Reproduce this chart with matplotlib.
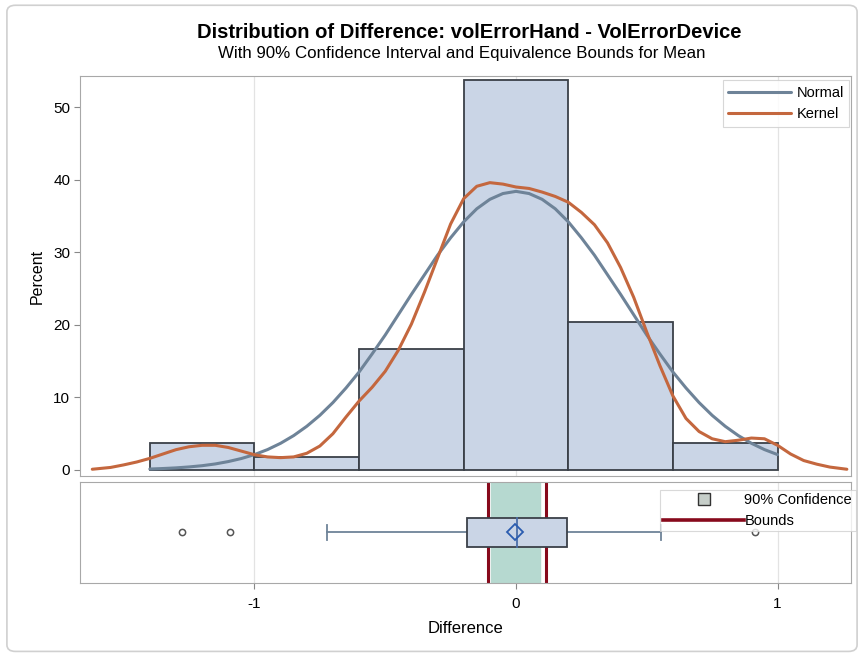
import numpy as np
import matplotlib.pyplot as plt
from matplotlib.patches import Rectangle, FancyBboxPatch
from matplotlib.lines import Line2D

plt.rcParams["font.family"] = ["Liberation Sans", "DejaVu Sans"]

# ------------ data ------------
bin_edges = [-1.4, -1.0, -0.6, -0.2, 0.2, 0.6, 1.0]
bin_percent = [3.7, 1.8, 16.7, 53.7, 20.4, 3.7]

normal_x = [-1.40, -1.35, -1.30, -1.25, -1.20, -1.15, -1.10, -1.05, -1.00, -0.95,
            -0.90, -0.85, -0.80, -0.75, -0.70, -0.65, -0.60, -0.55, -0.50, -0.45,
            -0.40, -0.35, -0.30, -0.25, -0.20, -0.15, -0.10, -0.05, 0.00, 0.05,
            0.10, 0.15, 0.20, 0.25, 0.30, 0.35, 0.40, 0.45, 0.50, 0.55,
            0.60, 0.65, 0.70, 0.75, 0.80, 0.85, 0.90, 0.95, 1.00]
normal_y = [0.13, 0.20, 0.29, 0.42, 0.59, 0.83, 1.16, 1.58, 2.12, 2.81,
            3.68, 4.74, 6.02, 7.53, 9.29, 11.3, 13.5, 16.0, 18.6, 21.4,
            24.2, 26.9, 29.6, 32.0, 34.2, 36.0, 37.3, 38.1, 38.4, 38.1,
            37.3, 36.0, 34.2, 32.0, 29.6, 26.9, 24.2, 21.4, 18.6, 16.0,
            13.5, 11.3, 9.29, 7.53, 6.02, 4.74, 3.68, 2.81, 2.12]

kernel_x = [-1.62, -1.55, -1.50, -1.45, -1.40, -1.35, -1.30, -1.25, -1.20, -1.15,
            -1.10, -1.05, -1.00, -0.95, -0.90, -0.85, -0.80, -0.75, -0.70, -0.65,
            -0.60, -0.55, -0.50, -0.45, -0.40, -0.35, -0.30, -0.25, -0.20, -0.15,
            -0.10, -0.05, 0.00, 0.05, 0.10, 0.15, 0.20, 0.25, 0.30, 0.35,
            0.40, 0.45, 0.50, 0.55, 0.60, 0.65, 0.70, 0.75, 0.80, 0.85,
            0.90, 0.95, 1.00, 1.05, 1.10, 1.15, 1.20, 1.265]
kernel_y = [0.1, 0.35, 0.7, 1.1, 1.6, 2.2, 2.8, 3.2, 3.4, 3.4,
            3.1, 2.6, 2.1, 1.8, 1.7, 1.8, 2.3, 3.3, 5.0, 7.3,
            9.5, 11.4, 13.6, 16.5, 20.1, 24.5, 29.2, 33.9, 37.4, 39.1,
            39.6, 39.4, 39.0, 38.8, 38.3, 37.7, 36.9, 35.5, 33.8, 31.3,
            27.9, 23.8, 19.0, 14.4, 10.2, 7.1, 5.3, 4.3, 3.9, 4.1,
            4.4, 4.3, 3.4, 2.2, 1.3, 0.8, 0.4, 0.1]

# box plot summary
q1, median, q3 = -0.189, 0.005, 0.194
whisker_lo, whisker_hi = -0.724, 0.553
mean_val = -0.005
outliers = [-1.277, -1.094, 0.915]
ci_lo, ci_hi = -0.096, 0.092
bounds = [-0.107, 0.115]
# --------------------------------------------------

BAR_FILL = "#CAD5E6"
BAR_EDGE = "#3A4048"
NORMAL_C = "#6E8398"
KERNEL_C = "#C4673E"
BAND_C = "#B6D9D0"
BOUND_C = "#870A1C"
GRID_C = "#E3E3E3"
SPINE_C = "#A8A8A8"

fig = plt.figure(figsize=(8.64, 6.58), dpi=100)
fig.patches.append(FancyBboxPatch((0.008, 0.01), 0.984, 0.982, boxstyle="round,pad=0,rounding_size=0.01",
                                  transform=fig.transFigure, fill=False, edgecolor="#D0D0D0", linewidth=1.2))

ax = fig.add_axes([0.0926, 0.2766, 0.8924, 0.6079])
axb = fig.add_axes([0.0926, 0.1140, 0.8924, 0.1535], sharex=ax)

xlim = (-1.667, 1.281)

# ---- histogram panel ----
for g in (-1, 0, 1):
    ax.axvline(g, color=GRID_C, linewidth=0.9, zorder=0)
widths = np.diff(bin_edges)
ax.bar(bin_edges[:-1], bin_percent, width=widths, align="edge", color=BAR_FILL,
       edgecolor=BAR_EDGE, linewidth=1.3, zorder=2)
ax.plot(normal_x, normal_y, color=NORMAL_C, linewidth=2.2, label="Normal", zorder=3,
        solid_capstyle="round", solid_joinstyle="round")
ax.plot(kernel_x, kernel_y, color=KERNEL_C, linewidth=2.2, label="Kernel", zorder=4,
        solid_capstyle="round", solid_joinstyle="round")
ax.set_xlim(*xlim)
ax.set_ylim(-0.83, 54.3)
ax.set_yticks([0, 10, 20, 30, 40, 50])
ax.set_ylabel("Percent", fontsize=11.5, labelpad=6)
ax.tick_params(axis="y", labelsize=11, length=4, color="#888888", pad=3)
ax.tick_params(axis="x", bottom=False, labelbottom=False)
for s in ax.spines.values():
    s.set_color(SPINE_C)
leg = ax.legend(loc="upper right", bbox_to_anchor=(0.998, 0.99), fontsize=10.5, frameon=True,
                fancybox=False, edgecolor="#D0D0D0", framealpha=0.85, handlelength=4.3,
                handletextpad=0.35, borderpad=0.4, labelspacing=0.5, borderaxespad=0)
leg.get_frame().set_linewidth(0.8)

# ---- box plot panel ----
for g in (-1, 0, 1):
    axb.axvline(g, color=GRID_C, linewidth=0.9, zorder=0)
axb.axvspan(ci_lo, ci_hi, color=BAND_C, zorder=1)
for b in bounds:
    axb.axvline(b, color=BOUND_C, linewidth=2.2, zorder=2)
yc, h = 0.5, 0.29
axb.add_patch(Rectangle((q1, yc - h / 2), q3 - q1, h, facecolor=BAR_FILL, edgecolor=BAR_EDGE,
                        linewidth=1.3, zorder=4))
axb.plot([median, median], [yc - h / 2, yc + h / 2], color="#4A6EA8", linewidth=1.3, zorder=5)
axb.plot([whisker_lo, q1], [yc, yc], color="#6E8398", linewidth=1.3, zorder=3)
axb.plot([q3, whisker_hi], [yc, yc], color="#6E8398", linewidth=1.3, zorder=3)
for w in (whisker_lo, whisker_hi):
    axb.plot([w, w], [yc - 0.07, yc + 0.07], color="#6E8398", linewidth=1.3, zorder=3)
axb.plot([mean_val], [yc], marker="D", markersize=8, markerfacecolor="none",
         markeredgecolor="#2A5CB0", markeredgewidth=1.3, zorder=6)
axb.plot(outliers, [yc] * len(outliers), linestyle="none", marker="o", markersize=4.5,
         markerfacecolor="none", markeredgecolor="#555555", markeredgewidth=1.1, zorder=3)
axb.set_ylim(0, 1)
axb.set_yticks([])
axb.set_xticks([-1, 0, 1])
axb.set_xticklabels(["-1", "0", "1"])
axb.tick_params(axis="x", labelsize=11, length=4, color="#888888", pad=6)
axb.set_xlabel("Difference", fontsize=12, labelpad=7)
for s in axb.spines.values():
    s.set_color(SPINE_C)

h_ci = Line2D([], [], linestyle="none", marker="s", markersize=8, markerfacecolor="#C6CEC9",
              markeredgecolor="#333333", markeredgewidth=1.0)
h_bd = Line2D([], [], color=BOUND_C, linewidth=2.6)
leg2 = axb.legend([h_ci, h_bd], ["90% Confidence", "Bounds"], loc="upper right",
                  bbox_to_anchor=(1.006, 0.925), fontsize=10.5, frameon=True, fancybox=False,
                  edgecolor="#D0D0D0", framealpha=0.8, handlelength=5.5, handletextpad=0.05,
                  borderpad=0.25, labelspacing=0.45, borderaxespad=0)
leg2.get_frame().set_linewidth(0.8)

fig.text(0.543, 0.950, "Distribution of Difference: volErrorHand - VolErrorDevice",
         ha="center", va="center", fontsize=14.5, fontweight="bold")
fig.text(0.534, 0.919, "With 90% Confidence Interval and Equivalence Bounds for Mean",
         ha="center", va="center", fontsize=12.2)

fig.savefig("out.png", dpi=100)
